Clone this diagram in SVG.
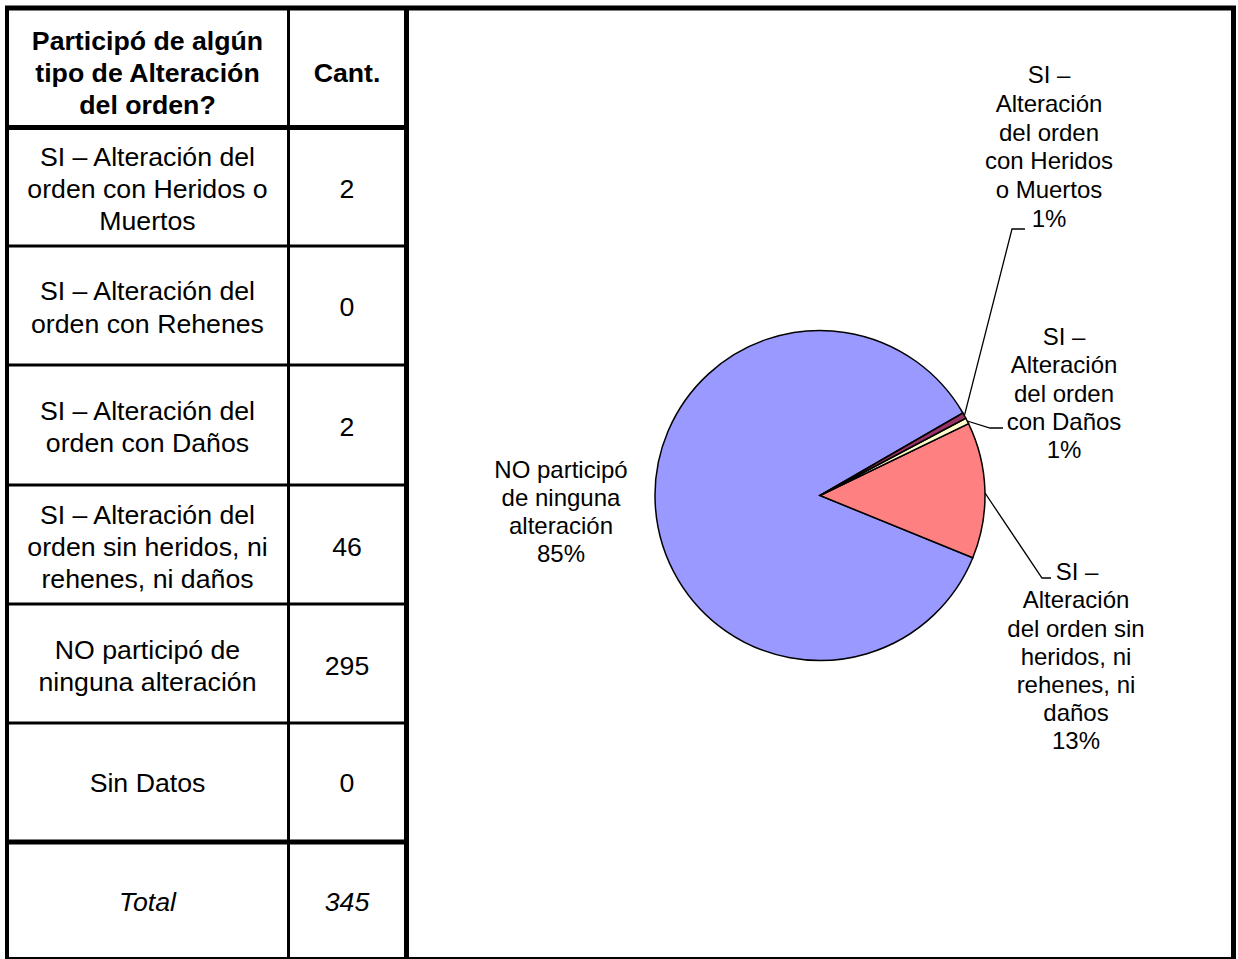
<svg xmlns="http://www.w3.org/2000/svg" width="1238" height="959" viewBox="0 0 1238 959">
<style>
.t{font-family:"Liberation Sans",Arial,sans-serif;font-size:26.7px;fill:#000;text-anchor:middle}
.b{font-weight:bold}
.i{font-style:italic}
.l{font-family:"Liberation Sans",Arial,sans-serif;font-size:24px;fill:#000;text-anchor:middle}
.g{stroke:#000;fill:none}
.s{stroke:#000;stroke-width:1.5}
.ld{stroke:#000;stroke-width:1.3;fill:none}
</style>
<rect x="0" y="0" width="1238" height="959" fill="#fff"/>
<g id="grid" class="g">
<line x1="5" y1="8" x2="1236" y2="8" stroke-width="5"/>
<line x1="7" y1="6" x2="7" y2="959" stroke-width="4"/>
<line x1="5" y1="958" x2="1236" y2="958" stroke-width="2"/>
<line x1="1233.5" y1="6" x2="1233.5" y2="959" stroke-width="5"/>
<line x1="406.5" y1="6" x2="406.5" y2="959" stroke-width="5"/>
<line x1="288.5" y1="6" x2="288.5" y2="959" stroke-width="3"/>
<line x1="7" y1="127.5" x2="406" y2="127.5" stroke-width="5"/>
<line x1="7" y1="246" x2="406" y2="246" stroke-width="3"/>
<line x1="7" y1="365" x2="406" y2="365" stroke-width="3"/>
<line x1="7" y1="485" x2="406" y2="485" stroke-width="3"/>
<line x1="7" y1="604" x2="406" y2="604" stroke-width="3"/>
<line x1="7" y1="723" x2="406" y2="723" stroke-width="3"/>
<line x1="7" y1="842" x2="406" y2="842" stroke-width="5"/>
</g>
<g id="header">
<text class="t b" x="147.5" y="49.5">Participó de algún</text>
<text class="t b" x="147.5" y="81.5">tipo de Alteración</text>
<text class="t b" x="147.5" y="113.5">del orden?</text>
<text class="t b" x="347" y="81.5">Cant.</text>
</g>
<g id="row-heridos">
<text class="t" x="147.5" y="166">SI – Alteración del</text>
<text class="t" x="147.5" y="198">orden con Heridos o</text>
<text class="t" x="147.5" y="230">Muertos</text>
<text class="t" x="347" y="198">2</text>
</g>
<g id="row-rehenes">
<text class="t" x="147.5" y="300">SI – Alteración del</text>
<text class="t" x="147.5" y="333">orden con Rehenes</text>
<text class="t" x="347" y="316">0</text>
</g>
<g id="row-danos">
<text class="t" x="147.5" y="420">SI – Alteración del</text>
<text class="t" x="147.5" y="452">orden con Daños</text>
<text class="t" x="347" y="436">2</text>
</g>
<g id="row-sin">
<text class="t" x="147.5" y="524">SI – Alteración del</text>
<text class="t" x="147.5" y="556">orden sin heridos, ni</text>
<text class="t" x="147.5" y="588">rehenes, ni daños</text>
<text class="t" x="347" y="556">46</text>
</g>
<g id="row-no">
<text class="t" x="147.5" y="659">NO participó de</text>
<text class="t" x="147.5" y="691">ninguna alteración</text>
<text class="t" x="347" y="675">295</text>
</g>
<g id="row-sindatos">
<text class="t" x="147.5" y="792">Sin Datos</text>
<text class="t" x="347" y="792">0</text>
</g>
<g id="row-total">
<text class="t i" x="147.5" y="911">Total</text>
<text class="t i" x="347" y="911">345</text>
</g>
<g id="pie">
<path id="slice-no" class="s" fill="#9999FF" d="M820,495.5 L972.8,557.78 A165,165 0 1 1 962.89,413 Z"/>
<path id="slice-sin" class="s" fill="#FF8080" d="M820,495.5 L968.52,423.62 A165,165 0 0 1 972.8,557.78 Z"/>
<path id="slice-danos" class="s" fill="#FFFFCC" d="M820,495.5 L965.8,418.26 A165,165 0 0 1 968.52,423.62 Z"/>
<path id="slice-heridos" class="s" fill="#993366" d="M820,495.5 L962.89,413 A165,165 0 0 1 965.8,418.26 Z"/>
</g>
<g id="connectors">
<polyline class="ld" points="964.4,415.6 1012,229 1025,229"/>
<polyline class="ld" points="967.2,421 990,428 1003,428"/>
<polyline class="ld" points="985,493 1042,578 1051,578"/>
</g>
<g id="label-heridos">
<text class="l" x="1049" y="83">SI –</text>
<text class="l" x="1049" y="111.8">Alteración</text>
<text class="l" x="1049" y="140.6">del orden</text>
<text class="l" x="1049" y="169.4">con Heridos</text>
<text class="l" x="1049" y="198.2">o Muertos</text>
<text class="l" x="1049" y="227">1%</text>
</g>
<g id="label-danos">
<text class="l" x="1064" y="345">SI –</text>
<text class="l" x="1064" y="373.3">Alteración</text>
<text class="l" x="1064" y="401.6">del orden</text>
<text class="l" x="1064" y="430">con Daños</text>
<text class="l" x="1064" y="458">1%</text>
</g>
<g id="label-sin">
<text class="l" x="1077" y="580">SI –</text>
<text class="l" x="1076" y="608.3">Alteración</text>
<text class="l" x="1076" y="636.5">del orden sin</text>
<text class="l" x="1076" y="664.7">heridos, ni</text>
<text class="l" x="1076" y="693">rehenes, ni</text>
<text class="l" x="1076" y="721.2">daños</text>
<text class="l" x="1076" y="749.4">13%</text>
</g>
<g id="label-no">
<text class="l" x="561" y="478">NO participó</text>
<text class="l" x="561" y="506">de ninguna</text>
<text class="l" x="561" y="534">alteración</text>
<text class="l" x="561" y="562">85%</text>
</g>
</svg>
